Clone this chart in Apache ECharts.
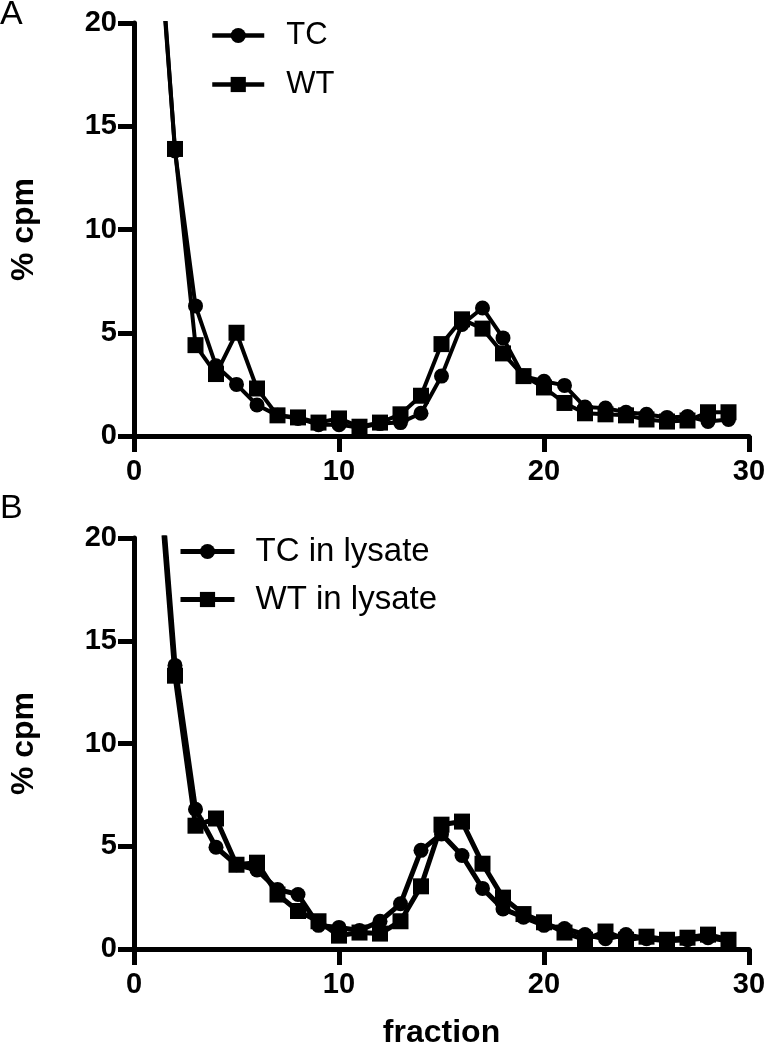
<!DOCTYPE html>
<html>
<head>
<meta charset="utf-8">
<script src="https://cdn.jsdelivr.net/npm/echarts@6/dist/echarts.min.js"></script>
<style>
  html, body { margin: 0; padding: 0; background: #fff; }
  #chart { width: 769px; height: 1050px; }
</style>
</head>
<body>
<div id="chart"></div>
<script>
// Fractions (x values)
const fractions = [1,2,3,4,5,6,7,8,9,10,11,12,13,14,15,16,17,18,19,20,21,22,23,24,25,26,27,28,29];

// Panel A
const tcA = [27.5,13.8,6.3,3.4,2.5,1.5,1.0,0.85,0.55,0.55,0.4,0.6,0.65,1.1,2.9,5.4,6.2,4.75,2.9,2.65,2.45,1.4,1.35,1.15,1.05,0.9,0.95,0.7,0.8];
const wtA = [27.0,13.9,4.4,3.0,5.0,2.3,1.0,0.9,0.65,0.85,0.45,0.65,1.05,1.95,4.45,5.65,5.2,4.0,2.9,2.35,1.6,1.1,1.05,1.0,0.8,0.7,0.75,1.15,1.15];

// Panel B
const tcB = [26.4,13.8,6.8,4.95,4.1,3.85,2.9,2.65,1.15,1.05,0.9,1.35,2.2,4.8,5.6,4.55,2.95,1.95,1.55,1.15,1.0,0.7,0.5,0.7,0.5,0.4,0.45,0.55,0.4];
const wtB = [26.0,13.3,6.0,6.35,4.1,4.2,2.65,1.85,1.35,0.65,0.8,0.75,1.35,3.05,6.05,6.2,4.15,2.5,1.7,1.3,0.8,0.45,0.85,0.45,0.6,0.45,0.55,0.7,0.45];

const seriesNamesA = ['TC', 'WT'];
const seriesNamesB = ['TC in lysate', 'WT in lysate'];
const panelLabels = ['A', 'B'];
const yTicks = { min: 0, max: 20, interval: 5 };
const xTicks = { min: 0, max: 30, interval: 10 };
const yAxisName = '% cpm';
const xAxisName = 'fraction';

const pair = (xs, ys) => xs.map((x, i) => [x, ys[i]]);
const FONT = '"Liberation Sans", Arial, Helvetica, sans-serif';

function xAxisCfg(gridIndex, withName) {
  return {
    type: 'value', gridIndex: gridIndex,
    min: xTicks.min, max: xTicks.max, interval: xTicks.interval,
    name: withName ? xAxisName : '',
    nameLocation: 'middle', nameGap: 68,
    nameTextStyle: { fontFamily: FONT, fontWeight: 'bold', fontSize: 32, color: '#000' },
    splitLine: { show: false },
    axisLine: { show: true, onZero: false, lineStyle: { color: '#000', width: 5 } },
    axisTick: { show: true, inside: false, length: 16, lineStyle: { color: '#000', width: 5 } },
    axisLabel: { margin: 21, fontFamily: FONT, fontWeight: 'bold', fontSize: 29, color: '#000' }
  };
}
function yAxisCfg(gridIndex) {
  return {
    type: 'value', gridIndex: gridIndex,
    min: yTicks.min, max: yTicks.max, interval: yTicks.interval,
    name: yAxisName, nameLocation: 'middle', nameRotate: 90, nameGap: 94,
    nameTextStyle: { fontFamily: FONT, fontWeight: 'bold', fontSize: 32, color: '#000' },
    splitLine: { show: false },
    axisLine: { show: true, onZero: false, lineStyle: { color: '#000', width: 5 } },
    axisTick: { show: true, inside: false, length: 16, lineStyle: { color: '#000', width: 5 } },
    axisLabel: { margin: 17, fontFamily: FONT, fontWeight: 'bold', fontSize: 29, color: '#000' }
  };
}
function lineSeries(name, data, idx, symbol, size, lw) {
  return {
    name: name, type: 'line', xAxisIndex: idx, yAxisIndex: idx,
    data: data, symbol: symbol, symbolSize: size, clip: true,
    lineStyle: { color: '#000', width: lw },
    itemStyle: { color: '#000', borderColor: '#000', borderWidth: 0 },
    emphasis: { disabled: true }, animation: false
  };
}

const chart = echarts.init(document.getElementById('chart'), null, { renderer: 'canvas' });
chart.setOption({
  animation: false,
  backgroundColor: '#fff',
  title: [
    { text: panelLabels[0], left: 0, top: -2, padding: 0, textStyle: { fontFamily: FONT, fontWeight: 'normal', fontSize: 34, color: '#000' } },
    { text: panelLabels[1], left: 0, top: 492, padding: 0, textStyle: { fontFamily: FONT, fontWeight: 'normal', fontSize: 34, color: '#000' } }
  ],
  legend: [
    {
      data: seriesNamesA, orient: 'vertical', left: 210, top: 20, padding: 0,
      itemWidth: 52, itemHeight: 19, itemGap: 18,
      lineStyle: { color: '#000', width: 4.5 },
      textStyle: { fontFamily: FONT, fontSize: 31, lineHeight: 31, color: '#000', padding: [0, 0, 0, 17] },
      selectedMode: false
    },
    {
      data: seriesNamesB, orient: 'vertical', left: 178, top: 535, padding: 0,
      itemWidth: 54, itemHeight: 19, itemGap: 15,
      lineStyle: { color: '#000', width: 5 },
      textStyle: { fontFamily: FONT, fontSize: 33, lineHeight: 33, color: '#000', padding: [0, 0, 0, 16] },
      selectedMode: false
    }
  ],
  grid: [
    { left: 131, right: 20, top: 23, height: 413 },
    { left: 131, right: 20, top: 538, height: 413 }
  ],
  xAxis: [ xAxisCfg(0, false), xAxisCfg(1, true) ],
  yAxis: [ yAxisCfg(0), yAxisCfg(1) ],
  series: [
    lineSeries(seriesNamesA[0], pair(fractions, tcA), 0, 'circle', 15, 4),
    lineSeries(seriesNamesA[1], pair(fractions, wtA), 0, 'rect', 16, 4),
    lineSeries(seriesNamesB[0], pair(fractions, tcB), 1, 'circle', 15, 5),
    lineSeries(seriesNamesB[1], pair(fractions, wtB), 1, 'rect', 16, 5)
  ]
});
</script>
</body>
</html>
